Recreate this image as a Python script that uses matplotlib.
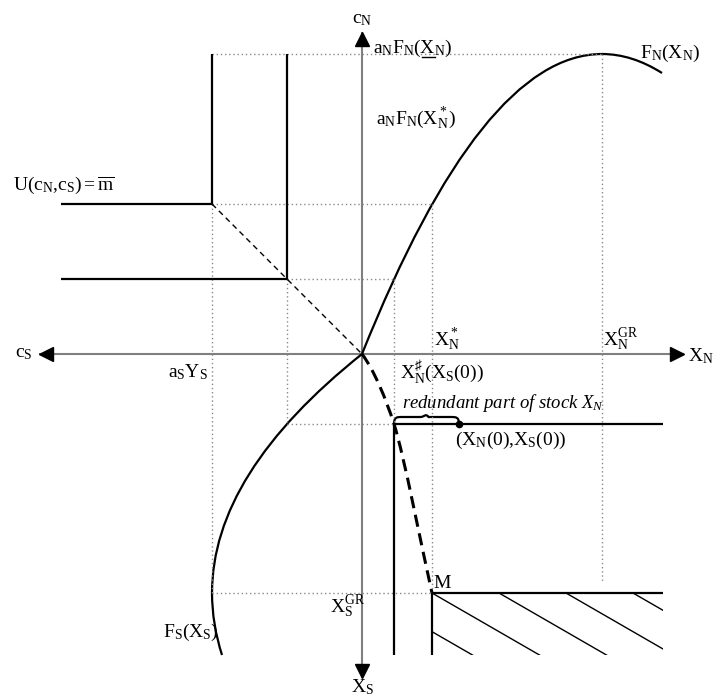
import matplotlib
matplotlib.use("Agg")
import matplotlib.pyplot as plt
from matplotlib.path import Path
from matplotlib.patches import PathPatch, Rectangle

plt.rcParams['mathtext.fontset'] = 'custom'
plt.rcParams['mathtext.rm'] = 'Liberation Serif'
plt.rcParams['mathtext.it'] = 'Liberation Serif:italic'
plt.rcParams['mathtext.bf'] = 'Liberation Serif:bold'
plt.rcParams['font.family'] = ['Liberation Serif', 'DejaVu Serif']

# ---------------- data (model units) ----------------
# F_N(X_N): quadratic Bezier control points (X_N, c_N)
fn_x = [0, 120, 240, 270, 300]
fn_c = [0, 300, 300, 300, 281]
# F_S(X_S): quadratic Bezier control points (X_S, c_S)
fs_x = [0, 119.5, 239, 270, 301]
fs_c = [0, 150, 150, 150, 140]
# dashed path from origin to M: cubic Bezier control points (X_N, X_S)
path_xn = [0, 12, 24, 32, 42, 60, 70]
path_xs = [0, 16, 45, 70, 101, 195, 239]

XN_GR, FN_MAX = 240, 300
XN_STAR, FN_STAR = 70, 150
XS_GR = 239
CS_1, CN_1 = 150, 150     # corner of indifference curve U = m
CS_2, CN_2 = 75, 75       # corner of second indifference curve
XN_SHARP, XS0, XN0 = 32, 70, 97
EDGE = 301
DOT_END_XS = 229
hatch_start = [3, 70, 137, 204, 271]
hatch_slope = 0.577

# ---------------- figure ----------------
fig = plt.figure(figsize=(7.13, 6.97), dpi=100)
ax = fig.add_axes([0, 0, 1, 1])
ax.axis('off')
ax.set_xlim(-362, 351)
ax.set_ylim(-343, 354)

GRAY = '#7f7f7f'
DOT = dict(color='#8a8a8a', lw=1.0, ls=(0, (1, 2)))
SOL = dict(color='black', lw=1.6, solid_capstyle='butt')

# axes with arrow heads
ax.plot([-322, 321], [0, 0], color=GRAY, lw=1.5, zorder=1)
ax.plot([0, 0], [-323, 321], color=GRAY, lw=1.5, zorder=1)
ms = 10
ax.plot([0], [321 - 6], marker='^', ms=ms, color='black', mec='black')
ax.plot([0], [-323 + 6], marker='v', ms=ms, color='black', mec='black')
ax.plot([321 - 6], [0], marker='>', ms=ms, color='black', mec='black')
ax.plot([-322 + 6], [0], marker='<', ms=ms, color='black', mec='black')

# dotted guide lines
ax.plot([-CS_1, XN_GR], [FN_MAX, FN_MAX], **DOT)
ax.plot([XN_GR, XN_GR], [FN_MAX, -DOT_END_XS], **DOT)
ax.plot([-CS_1, XN_STAR], [CN_1, CN_1], **DOT)
ax.plot([XN_STAR, XN_STAR], [FN_STAR, -XS_GR], **DOT)
ax.plot([-CS_2, XN_SHARP], [CN_2, CN_2], **DOT)
ax.plot([XN_SHARP, XN_SHARP], [CN_2, -XS0], **DOT)
ax.plot([-CS_1, -CS_1], [CN_1, -XS_GR], **DOT)
ax.plot([-CS_2, -CS_2], [CN_2, -XS0], **DOT)
ax.plot([-CS_2, XN_SHARP], [-XS0, -XS0], **DOT)
ax.plot([-CS_1, XN_STAR], [-XS_GR, -XS_GR], **DOT)

# indifference curves (L-shaped)
ax.plot([-EDGE, -CS_1, -CS_1], [CN_1, CN_1, FN_MAX], **SOL)
ax.plot([-EDGE, -CS_2, -CS_2], [CN_2, CN_2, FN_MAX], **SOL)
ax.plot([-CS_1, 0], [CN_1, 0], color='black', lw=1.0, ls=(0, (4, 3)))

# F_N curve
qc = [Path.MOVETO, Path.CURVE3, Path.CURVE3, Path.CURVE3, Path.CURVE3]
ax.add_patch(PathPatch(Path(list(zip(fn_x, fn_c)), qc), fc='none', ec='black', lw=1.6))
# F_S curve
ax.add_patch(PathPatch(Path([(-c, -x) for x, c in zip(fs_x, fs_c)], qc), fc='none', ec='black', lw=1.6))
# dashed path to M
cc = [Path.MOVETO] + [Path.CURVE4] * 6
ax.add_patch(PathPatch(Path([(a, -b) for a, b in zip(path_xn, path_xs)], cc), fc='none',
                       ec='black', lw=2.2, ls=(0, (4, 2.2))))

# initial-stock L and M region
ax.plot([XN_SHARP, XN_SHARP], [-EDGE, -XS0], **SOL)
ax.plot([XN_SHARP, EDGE], [-XS0, -XS0], **SOL)
ax.plot([XN_STAR, XN_STAR], [-EDGE, -XS_GR], **SOL)
ax.plot([XN_STAR, EDGE], [-XS_GR, -XS_GR], **SOL)
clip = Rectangle((XN_STAR, -EDGE), EDGE - XN_STAR, EDGE - XS_GR, transform=ax.transData, fc='none', ec='none')
ax.add_patch(clip)
for h in hatch_start:
    ln, = ax.plot([h, h + 300], [-XS_GR, -XS_GR - 300 * hatch_slope], color='black', lw=1.0)
    ln.set_clip_path(clip)
ax.plot([XN0], [-XS0], marker='o', ms=4.5, color='black')

# brace
b0, b1, by, bh = XN_SHARP, XN0, -XS0, 7
bm = (b0 + b1) / 2
verts = [(b0, by), (b0, by + bh), (b0 + 3, by + bh), (b0 + 8, by + bh),
         (bm - 6, by + bh), (bm - 2, by + bh), (bm - 1, by + bh + 4),
         (bm + 2, by + bh), (bm + 6, by + bh), (b1 - 8, by + bh),
         (b1 - 3, by + bh), (b1, by + bh), (b1, by)]
codes = [Path.MOVETO, Path.CURVE4, Path.CURVE4, Path.CURVE4, Path.LINETO,
         Path.CURVE4, Path.CURVE4, Path.CURVE4, Path.LINETO, Path.LINETO,
         Path.CURVE4, Path.CURVE4, Path.CURVE4]
ax.add_patch(PathPatch(Path(verts, codes), fc='none', ec='black', lw=1.6))

# ---------------- labels ----------------
fs = 14
def T(x, y, s, **kw):
    d = dict(fontsize=fs, va='center', ha='left')
    d.update(kw)
    return ax.text(x, y, s, **d)

T(0, 334, r'$\mathrm{c_N}$', ha='center')
T(-338, 0, r'$\mathrm{c_S}$', ha='center')
T(326, -2, r'$\mathrm{X_N}$')
T(0, -333, r'$\mathrm{X_S}$', ha='center')
lab = T(11, 306, r'$\mathrm{a_NF_N(X_N)}$')
T(14, 236, r'$\mathrm{a_NF_N(X_N^*)}$')
T(278, 301, r'$\mathrm{F_N(X_N)}$')
T(-349, 169, r'$\mathrm{U(c_N{,}c_S){=}\overline{m}}$')
T(-154, -18, r'$\mathrm{a_SY_S}$', ha='right')
T(72, 14, r'$\mathrm{X_N^*}$')
T(241, 14, r'$\mathrm{X_N^{GR}}$')
T(38, -18, r'$\mathrm{X_N^\sharp(X_S(0))}$')
T(40, -49, r'$\mathit{redundant\ part\ of\ stock\ X_N}$', fontsize=13.5)
T(93, -86, r'$\mathrm{(X_N(0){,}X_S(0))}$')
T(71, -229, r'$\mathrm{M}$')
T(-32, -253, r'$\mathrm{X_S^{GR}}$')
T(-199, -278, r'$\mathrm{F_S(X_S)}$')

# underline of the X in a_N F_N(X_N): locate it from helper texts
fig.canvas.draw()
r = fig.canvas.get_renderer()
pre = ax.text(11, 306, r'$\mathrm{a_NF_N(}$', fontsize=fs, va='center', ha='left')
px = ax.text(11, 306, r'$\mathrm{a_NF_N(X}$', fontsize=fs, va='center', ha='left')
e0 = pre.get_window_extent(r)
e1 = px.get_window_extent(r)
el = lab.get_window_extent(r)
pre.remove(); px.remove()
inv = ax.transData.inverted()
xa, ya = inv.transform((e0.x1 + 0.5, el.y0 + 2))
xb, _ = inv.transform((e1.x1 - 0.5, el.y0 + 2))
ax.plot([xa, xb], [ya, ya], color='black', lw=1.0)

fig.savefig('out.png', dpi=100)
